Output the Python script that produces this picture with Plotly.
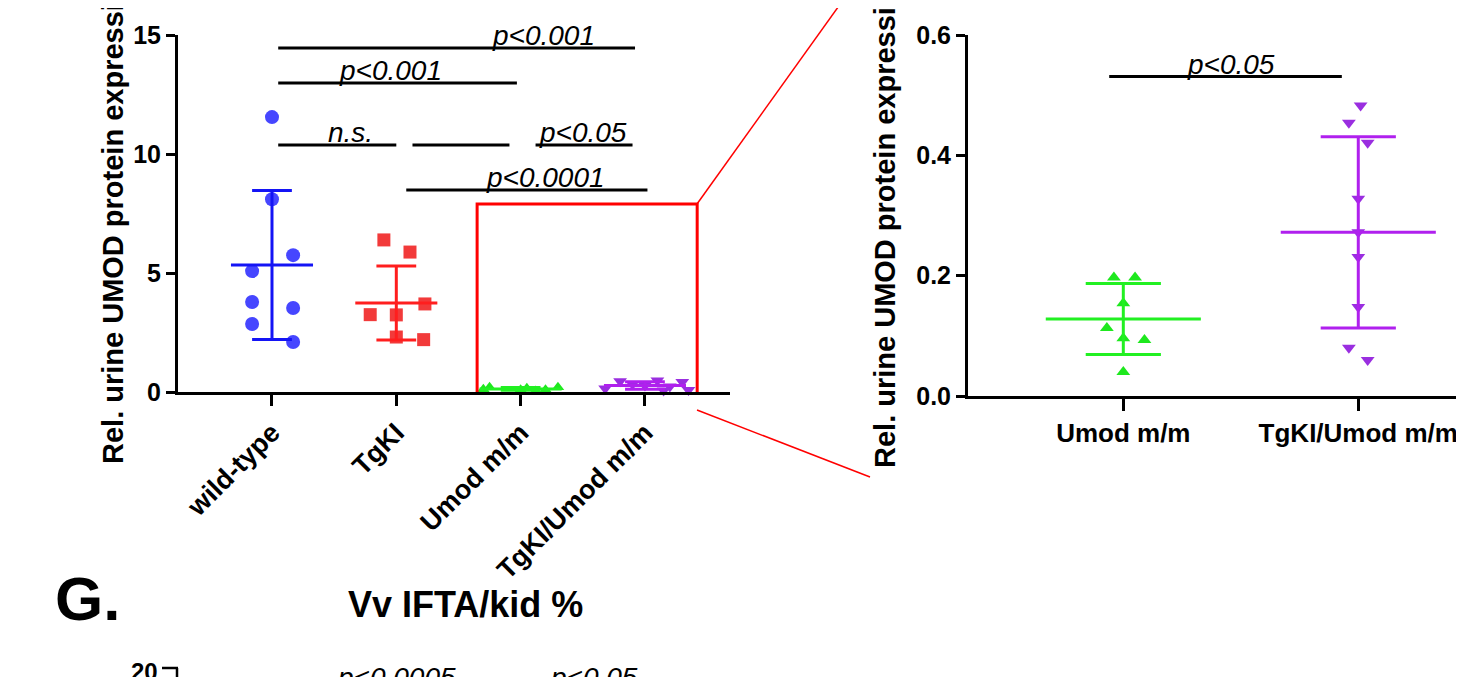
import plotly.graph_objects as go

W, H = 1464, 677
OFF = 8  # page body margin of the browser, compensated so the drawing lands where the reference has it

# ---------------- data ----------------
left_categories = ["wild-type", "TgKI", "Umod m/m", "TgKI/Umod m/m"]
right_categories = ["Umod m/m", "TgKI/Umod m/m"]

wt_values = [11.55, 8.10, 5.75, 5.08, 3.78, 3.53, 2.86, 2.10]
wt_jitter = [0.0, 0.0, 0.17, -0.16, -0.16, 0.17, -0.16, 0.17]

tgki_values = [6.39, 5.88, 3.70, 3.25, 3.24, 2.31, 2.20]
tgki_jitter = [-0.10, 0.11, 0.23, -0.21, 0.0, 0.0, 0.22]

umod_values = [0.197, 0.197, 0.154, 0.113, 0.096, 0.093, 0.040]
umod_jitter_right = [-0.04, 0.05, 0.0, -0.07, 0.0, 0.09, 0.0]
umod_jitter_left = [-0.25, 0.30, 0.05, -0.30, 0.0, 0.20, 0.12]

tgum_values = [0.483, 0.454, 0.421, 0.328, 0.272, 0.231, 0.148, 0.080, 0.060]
tgum_jitter_right = [0.01, -0.04, 0.04, 0.0, 0.0, 0.0, 0.0, -0.04, 0.04]
tgum_jitter_left = [0.10, -0.20, 0.30, -0.10, 0.0, 0.20, -0.32, 0.35, 0.15]

group_mean = [5.34, 3.74, 0.128, 0.272]
group_sd = [3.13, 1.55, 0.059, 0.159]

left_yticks = [0, 5, 10, 15]
right_yticks = [0.0, 0.2, 0.4, 0.6]
right_yticktext = ["0.0", "0.2", "0.4", "0.6"]

# brackets: (x_start, x_end, y, label, label_x)
left_brackets = [
    (0.05, 2.92, 14.45, "p<0.001", 2.18),
    (0.05, 1.97, 12.98, "p<0.001", 0.95),
    (0.05, 1.00, 10.38, "n.s.", 0.63),
    (1.13, 1.91, 10.38, "", 1.5),
    (2.12, 2.90, 10.38, "p<0.05", 2.50),
    (1.08, 3.02, 8.49, "p<0.0001", 2.20),
]
right_brackets = [(-0.06, 0.93, 0.531, "p<0.05", 0.46)]

# ---------------- styling ----------------
BLUE_M, BLUE_L = "#4646ff", "#1414f5"
RED_M, RED_L = "#f23a3a", "#ff1e1e"
GREEN_M, GREEN_L = "#1ee81e", "#22f022"
PURP_M, PURP_L = "#9a2ee0", "#b020ee"
FONT = "Liberation Sans, Arial"

MEAN_HW = 0.33
CAP_HW = 0.16


def px(p):
    return (p - OFF) / W


def py(p):
    return 1 - (p - OFF) / H


fig = go.Figure()


def add_group(xc, vals, jit, mean, sd, mcolor, lcolor, symbol, msize, xa, ya, lw=3):
    fig.add_trace(go.Scatter(
        x=[xc + j for j in jit], y=vals, mode="markers", xaxis=xa, yaxis=ya,
        marker=dict(symbol=symbol, size=msize, color=mcolor, line=dict(width=0)),
        cliponaxis=False, showlegend=False, hoverinfo="y"))
    lx = [xc - MEAN_HW, xc + MEAN_HW, None,
          xc - CAP_HW, xc + CAP_HW, None,
          xc - CAP_HW, xc + CAP_HW, None,
          xc, xc]
    ly = [mean, mean, None,
          mean + sd, mean + sd, None,
          mean - sd, mean - sd, None,
          mean - sd, mean + sd]
    fig.add_trace(go.Scatter(
        x=lx, y=ly, mode="lines", xaxis=xa, yaxis=ya,
        line=dict(color=lcolor, width=lw), cliponaxis=False,
        showlegend=False, hoverinfo="skip"))


# left panel
add_group(0, wt_values, wt_jitter, group_mean[0], group_sd[0], BLUE_M, BLUE_L, "circle", 14, "x", "y")
add_group(1, tgki_values, tgki_jitter, group_mean[1], group_sd[1], RED_M, RED_L, "square", 13, "x", "y")
add_group(2, umod_values, umod_jitter_left, group_mean[2], group_sd[2], GREEN_M, GREEN_L, "triangle-up", 11, "x", "y")
add_group(3, tgum_values, tgum_jitter_left, group_mean[3], group_sd[3], PURP_M, PURP_L, "triangle-down", 12, "x", "y")

# right panel
add_group(0, umod_values, umod_jitter_right, group_mean[2], group_sd[2], GREEN_M, GREEN_L, "triangle-up", 12, "x2", "y2", lw=3)
add_group(1, tgum_values, tgum_jitter_right, group_mean[3], group_sd[3], PURP_M, PURP_L, "triangle-down", 12, "x2", "y2", lw=3)

shapes = []
annotations = []

PFONT = dict(family=FONT, size=28, color="black")

for (x0, x1, yv, lab, lx) in left_brackets:
    shapes.append(dict(type="line", xref="x", yref="y", x0=x0, x1=x1, y0=yv, y1=yv,
                       line=dict(color="black", width=3)))
    if lab:
        annotations.append(dict(xref="x", yref="y", x=lx, y=yv, text="<i>%s</i>" % lab,
                                showarrow=False, xanchor="center", yanchor="bottom", yshift=-5,
                                font=PFONT))
for (x0, x1, yv, lab, lx) in right_brackets:
    shapes.append(dict(type="line", xref="x2", yref="y2", x0=x0, x1=x1, y0=yv, y1=yv,
                       line=dict(color="black", width=3)))
    annotations.append(dict(xref="x2", yref="y2", x=lx, y=yv, text="<i>%s</i>" % lab,
                            showarrow=False, xanchor="center", yanchor="bottom", yshift=-5,
                            font=PFONT))

# red zoom box (in left data coords) and connector lines
shapes.append(dict(type="rect", xref="x", yref="y", x0=1.65, x1=3.42, y0=-0.76, y1=7.9,
                   line=dict(color="#ff0000", width=3)))
shapes.append(dict(type="line", xref="paper", yref="paper", x0=px(697), y0=py(204), x1=px(846), y1=py(-4),
                   line=dict(color="#ff0000", width=1.5)))
shapes.append(dict(type="line", xref="paper", yref="paper", x0=px(697), y0=py(410), x1=px(870), y1=py(477),
                   line=dict(color="#ff0000", width=1.5)))

# y-axis titles (cropped at top, as in the source figure)
for xc, yb in [(113, 466), (885, 470)]:
    annotations.append(dict(xref="paper", yref="paper", x=px(xc), y=py(yb), xanchor="center", yanchor="bottom",
                            text="<b>Rel. urine UMOD protein expression</b>", textangle=-90, showarrow=False,
                            font=dict(family=FONT, size=29, color="black")))

# next panel pieces
annotations.append(dict(xref="paper", yref="paper", x=px(87), y=py(598), xanchor="center", yanchor="middle",
                        text="<b>G.</b>", showarrow=False, font=dict(family=FONT, size=62, color="black")))
annotations.append(dict(xref="paper", yref="paper", x=px(465), y=py(604), xanchor="center", yanchor="middle",
                        text="<b>Vv IFTA/kid %</b>", showarrow=False, font=dict(family=FONT, size=36, color="black")))
annotations.append(dict(xref="paper", yref="paper", x=px(160), y=py(656), xanchor="right", yanchor="top",
                        text="<b>20</b>", showarrow=False, font=dict(family=FONT, size=24, color="black")))
annotations.append(dict(xref="paper", yref="paper", x=px(396), y=py(660), xanchor="center", yanchor="top",
                        text="<i>p<0.0005</i>", showarrow=False, font=PFONT))
annotations.append(dict(xref="paper", yref="paper", x=px(594), y=py(660), xanchor="center", yanchor="top",
                        text="<i>p<0.05</i>", showarrow=False, font=PFONT))
shapes.append(dict(type="line", xref="paper", yref="paper", x0=px(162), x1=px(178), y0=py(668), y1=py(668),
                   line=dict(color="black", width=2.5)))
shapes.append(dict(type="line", xref="paper", yref="paper", x0=px(177), x1=px(177), y0=py(668), y1=py(700),
                   line=dict(color="black", width=2.5)))

axis_common = dict(showline=True, linecolor="black", linewidth=3, ticks="outside", tickwidth=3,
                   tickcolor="black", showgrid=False, zeroline=False, automargin=False)
TICKFONT = dict(family=FONT, size=25, color="black", weight="bold")
XTICKFONT = dict(family=FONT, size=27, color="black", weight="bold")
X2TICKFONT = dict(family=FONT, size=26, color="black", weight="bold")

fig.update_layout(
    template="none",
    width=W, height=H,
    margin=dict(l=0, r=0, t=0, b=0, autoexpand=False),
    paper_bgcolor="white", plot_bgcolor="white",
    showlegend=False,
    xaxis=dict(domain=[px(178), px(730)], range=[-0.756, 3.684], tickvals=[0, 1, 2, 3],
               ticktext=left_categories, tickangle=-45, ticklen=11, anchor="y",
               tickfont=XTICKFONT, **axis_common),
    yaxis=dict(domain=[py(392), py(35)], range=[0, 15], tickvals=left_yticks, ticklen=9,
               anchor="x", tickfont=TICKFONT, **axis_common),
    xaxis2=dict(domain=[px(968), 1.0], range=[-0.661, 1.484], tickvals=[0, 1],
                ticktext=right_categories, tickangle=0, ticklen=12, anchor="y2",
                tickfont=X2TICKFONT, **axis_common),
    yaxis2=dict(domain=[py(396), py(35)], range=[0, 0.6], tickvals=right_yticks,
                ticktext=right_yticktext, ticklen=9, anchor="x2", tickfont=TICKFONT, **axis_common),
    shapes=shapes,
    annotations=annotations,
)

fig.write_html("out.html")
